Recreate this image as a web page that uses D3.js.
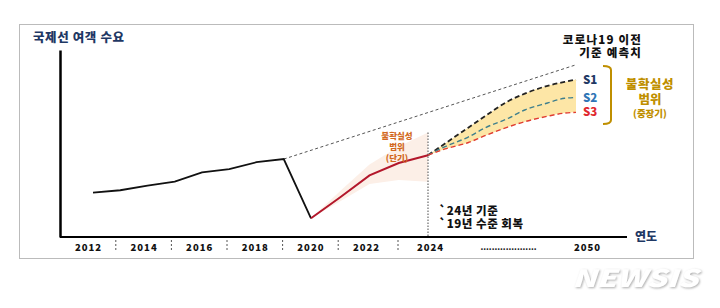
<!DOCTYPE html>
<html>
<head>
<meta charset="utf-8">
<script src="https://cdn.jsdelivr.net/npm/d3@7"></script>
<style>
body { margin: 0; background: #fff; }
text { font-family: "Noto Sans CJK KR", "Noto Sans", sans-serif; font-weight: 900; }
</style>
</head>
<body>
<div id="chart"></div>
<script>
// demand index, 2019 = 100
const pastYears = [2012, 2013, 2014, 2015, 2016, 2017, 2018, 2019, 2020];
const pastValues = [57, 60, 66, 71, 83, 87, 96, 100, 24];
const recoveryYears = [2020, 2021, 2022, 2023, 2024];
const recoveryValues = [24, 51, 79, 95, 105];
const bandUpper = [24, 59, 93, 116, 134];
const bandLower = [24, 46, 68, 73, 71];
const preCovidYears = [2019, 2050];
const preCovidValues = [100, 221];
const scenarioYears = [2024, 2027, 2031, 2034, 2038, 2041, 2045, 2048, 2050];
const s1Values = [105, 120, 140, 155, 174, 184, 194, 199, 202];
const s2Values = [105, 116, 128, 140, 152, 163, 172, 178, 179];
const s3Values = [105, 113, 121, 130, 141, 148, 155, 159, 160];
const tickYears = [2012, 2014, 2016, 2018, 2020, 2022, 2024, 2050];
const separatorYears = [2013, 2015, 2017, 2019, 2021, 2023];

const width = 720, height = 308;
const navy = "#1f3864";
const gold = "#bf8f00";

const svg = d3.select("#chart")
    .append("svg")
        .attr("width", width)
        .attr("height", height);

const defs = svg.append("defs");
defs.append("filter")
    .attr("id", "wm")
    .attr("x", "-10%").attr("y", "-20%")
    .attr("width", "130%").attr("height", "160%")
    .append("feDropShadow")
        .attr("dx", 1).attr("dy", 1)
        .attr("stdDeviation", 1.2)
        .attr("flood-color", "#999")
        .attr("flood-opacity", 0.8);

// dotted frame
svg.append("rect")
    .attr("x", 19.5).attr("y", 24.5)
    .attr("width", 674).attr("height", 234)
    .attr("fill", "none")
    .attr("stroke", "#777")
    .attr("stroke-dasharray", "1,1");

const x = d3.scaleLinear()
            .domain([2012, 2020, 2024, 2050])
            .range([93, 311, 428, 576]);
const xLabel = d3.scaleLinear()
            .domain([2012, 2022, 2024, 2050])
            .range([88, 366, 430, 587]);
const y = d3.scaleLinear()
            .domain([0, 240])
            .range([237, 50]);

const line = d3.line()
    .x(d => x(d[0]))
    .y(d => y(d[1]));
const curve = d3.line()
    .x(d => x(d[0]))
    .y(d => y(d[1]))
    .curve(d3.curveMonotoneX);

// short-term uncertainty band
svg.append("path")
    .datum(recoveryYears.map((yr, i) => [yr, bandLower[i], bandUpper[i]]))
    .attr("fill", "#fcefe7")
    .attr("d", d3.area()
        .x(d => x(d[0]))
        .y0(d => y(d[1]))
        .y1(d => y(d[2])));

// long-term uncertainty band S1..S3
svg.append("path")
    .datum(scenarioYears.map((yr, i) => [yr, s3Values[i], s1Values[i]]))
    .attr("fill", "#fde6a6")
    .attr("d", d3.area()
        .x(d => x(d[0]))
        .y0(d => y(d[1]))
        .y1(d => y(d[2]))
        .curve(d3.curveMonotoneX));

// pre-covid forecast
svg.append("path")
    .datum(preCovidYears.map((yr, i) => [yr, preCovidValues[i]]))
    .attr("fill", "none")
    .attr("stroke", "#555")
    .attr("stroke-width", 1)
    .attr("stroke-dasharray", "3,2.5")
    .attr("d", line);

// 2024 marker
svg.append("line")
    .attr("x1", x(2024)).attr("x2", x(2024))
    .attr("y1", y(134)).attr("y2", y(0))
    .attr("stroke", "#888")
    .attr("stroke-width", 1.5)
    .attr("stroke-dasharray", "1.5,1.5");

svg.append("path")
    .datum(pastYears.map((yr, i) => [yr, pastValues[i]]))
    .attr("fill", "none")
    .attr("stroke", "#111")
    .attr("stroke-width", 1.8)
    .attr("d", line);

svg.append("path")
    .datum(recoveryYears.map((yr, i) => [yr, recoveryValues[i]]))
    .attr("fill", "none")
    .attr("stroke", "#b3172b")
    .attr("stroke-width", 2)
    .attr("d", line);

const scenarios = [
    {name: "S1", values: s1Values, stroke: "#222", label: navy},
    {name: "S2", values: s2Values, stroke: "#3f7f8c", label: "#2e75b6"},
    {name: "S3", values: s3Values, stroke: "#e03c31", label: "#e0282e"}
];
scenarios.forEach(s => {
    svg.append("path")
        .datum(scenarioYears.map((yr, i) => [yr, s.values[i]]))
        .attr("fill", "none")
        .attr("stroke", s.stroke)
        .attr("stroke-width", s.name == "S1" ? 1.8 : 1.4)
        .attr("stroke-dasharray", "5,3")
        .attr("d", curve);
    svg.append("text")
        .attr("x", x(2050) + 7)
        .attr("y", y(s.values[s.values.length - 1]))
        .attr("dy", "0.36em")
        .attr("fill", s.label)
        .attr("font-size", 11.5)
        .text(s.name);
});

// axes
svg.append("g")
    .attr("transform", "translate(60,0)")
    .call(d3.axisLeft(y).tickValues([]).tickSizeOuter(0))
    .select(".domain")
        .attr("stroke", "#000")
        .attr("stroke-width", 2.5);

svg.append("line")
    .attr("x1", 60).attr("x2", 627)
    .attr("y1", y(0)).attr("y2", y(0))
    .attr("stroke", "#000")
    .attr("stroke-width", 2);

const xAxis = svg.append("g")
    .attr("transform", `translate(0, ${y(0) + 11})`)
    .call(d3.axisBottom(xLabel).tickValues(tickYears).tickSize(0).tickFormat(d3.format("d")));
xAxis.select(".domain").remove();
xAxis.selectAll("text")
    .attr("y", 0)
    .attr("dy", "0.36em")
    .attr("font-size", 9.5)
    .attr("letter-spacing", 1)
    .attr("font-family", "'Noto Sans CJK KR', sans-serif")
    .attr("font-weight", 900)
    .attr("fill", "#111");

svg.selectAll("line.sep")
    .data(separatorYears)
    .enter()
    .append("line")
        .attr("class", "sep")
        .attr("x1", d => xLabel(d)).attr("x2", d => xLabel(d))
        .attr("y1", y(0) + 3).attr("y2", y(0) + 15)
        .attr("stroke", "#555")
        .attr("stroke-dasharray", "2,2");

svg.append("text")
    .attr("x", xLabel(2037)).attr("y", y(0) + 13)
    .attr("text-anchor", "middle")
    .attr("font-size", 8)
    .attr("fill", "#222")
    .text("....................");

// texts
svg.append("text")
    .attr("x", 33).attr("y", 42)
    .attr("font-size", 12.5)
    .attr("letter-spacing", 0.6)
    .attr("fill", navy)
    .text("국제선 여객 수요");

svg.append("text")
    .attr("x", 635).attr("y", 241)
    .attr("font-size", 12)
    .attr("fill", navy)
    .text("연도");

svg.append("text")
    .attr("x", 642).attr("y", 44)
    .attr("text-anchor", "end")
    .attr("font-size", 11.5)
    .attr("letter-spacing", 1.2)
    .attr("fill", "#111")
    .text("코로나19 이전");
svg.append("text")
    .attr("x", 642).attr("y", 57)
    .attr("text-anchor", "end")
    .attr("font-size", 11.5)
    .attr("letter-spacing", 1.2)
    .attr("fill", "#111")
    .text("기준 예측치");

svg.append("text")
    .attr("x", 439).attr("y", 215)
    .attr("font-size", 11.5)
    .attr("letter-spacing", 0.5)
    .attr("fill", "#111")
    .text("`24년 기준");
svg.append("text")
    .attr("x", 439).attr("y", 228)
    .attr("font-size", 11.5)
    .attr("letter-spacing", 0.5)
    .attr("fill", "#111")
    .text("`19년 수준 회복");

// short-term range note
const shortLines = ["불확실성", "범위", "(단기)"];
svg.selectAll("text.short")
    .data(shortLines)
    .enter()
    .append("text")
        .attr("class", "short")
        .attr("x", 397)
        .attr("y", (d, i) => 139 + i * 10.8)
        .attr("text-anchor", "middle")
        .attr("font-size", 8.5)
        .attr("fill", "#d2691e")
        .text(d => d);

// bracket for long-term range
svg.append("path")
    .attr("d", "M603,66 Q611,66 611,70 L611,120 Q611,124 603,124")
    .attr("fill", "none")
    .attr("stroke", gold)
    .attr("stroke-width", 2);

svg.append("text")
    .attr("x", 650).attr("y", 89)
    .attr("text-anchor", "middle")
    .attr("font-size", 12.5)
    .attr("letter-spacing", 0.6)
    .attr("fill", gold)
    .text("불확실성");
svg.append("text")
    .attr("x", 650).attr("y", 104)
    .attr("text-anchor", "middle")
    .attr("font-size", 12.5)
    .attr("fill", gold)
    .text("범위");
svg.append("text")
    .attr("x", 650).attr("y", 117)
    .attr("text-anchor", "middle")
    .attr("font-size", 9.5)
    .attr("fill", gold)
    .text("(중장기)");

// watermark
svg.append("text")
    .attr("x", 572).attr("y", 287)
    .attr("textLength", 126)
    .attr("lengthAdjust", "spacingAndGlyphs")
    .attr("font-family", "'Liberation Sans', sans-serif")
    .attr("font-style", "italic")
    .attr("font-weight", 700)
    .attr("font-size", 24)
    .attr("fill", "#fff")
    .attr("filter", "url(#wm)")
    .text("NEWSIS");
</script>
</body>
</html>
